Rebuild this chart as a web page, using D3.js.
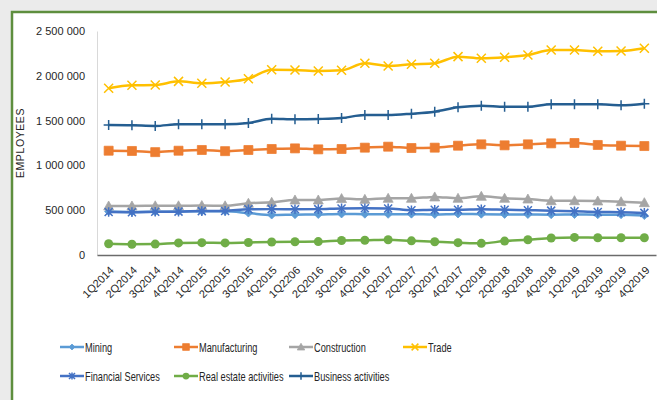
<!doctype html>
<html lang="en">
<head>
<meta charset="utf-8">
<title>Employees by industry</title>
<script src="https://cdn.jsdelivr.net/npm/d3@7/dist/d3.min.js"></script>
<style>
  body { margin: 0; background: #ebebeb; }
  svg { display: block; font-family: "Liberation Sans", Arial, sans-serif; }
</style>
</head>
<body>
<svg id="chart" width="657" height="400"></svg>
<script>
// quarters on the x axis (labels as printed, incl. the "1Q2206" typo)
var quarters = ["1Q2014","2Q2014","3Q2014","4Q2014","1Q2015","2Q2015","3Q2015","4Q2015",
  "1Q2206","2Q2016","3Q2016","4Q2016","1Q2017","2Q2017","3Q2017","4Q2017",
  "1Q2018","2Q2018","3Q2018","4Q2018","1Q2019","2Q2019","3Q2019","4Q2019"];

var yTicks = [0, 500000, 1000000, 1500000, 2000000, 2500000];

// series values (employees)
var mining = [485000,480000,482000,486000,488000,487000,468000,446000,450000,452000,458000,455000,
  454000,456000,452000,458000,455000,453000,452000,450000,452000,450000,450000,440000];
var manufacturing = [1164000,1161000,1148000,1164000,1172000,1159000,1172000,1183000,1190000,1179000,1183000,1198000,
  1209000,1194000,1198000,1220000,1235000,1224000,1235000,1246000,1250000,1228000,1220000,1216000];
var construction = [547000,547000,549000,549000,552000,549000,578000,588000,614000,614000,630000,621000,
  633000,633000,648000,633000,655000,633000,625000,606000,606000,603000,595000,584000];
var trade = [1860000,1894000,1897000,1938000,1916000,1931000,1968000,2068000,2065000,2054000,2061000,2140000,
  2110000,2128000,2140000,2214000,2195000,2206000,2232000,2288000,2288000,2273000,2277000,2307000];
var financial = [480000,478000,482000,484000,490000,492000,510000,512000,510000,512000,520000,522000,
  520000,500000,505000,505000,510000,505000,500000,495000,488000,480000,478000,470000];
var realEstate = [125000,120000,122000,135000,138000,135000,140000,145000,148000,150000,162000,165000,
  170000,158000,148000,138000,130000,155000,170000,190000,196000,193000,192000,193000];
var business = [1451000,1448000,1440000,1459000,1459000,1459000,1473000,1521000,1514000,1518000,1529000,1562000,
  1562000,1577000,1600000,1648000,1667000,1655000,1655000,1682000,1682000,1682000,1671000,1689000];

var seriesNames = ["Mining","Manufacturing","Construction","Trade","Financial Services","Real estate activities","Business activities"];
var seriesValues = [mining, manufacturing, construction, trade, financial, realEstate, business];
var seriesColors = ["#5B9BD5","#ED7D31","#A5A5A5","#FFC000","#4472C4","#70AD47","#255E91"];
var seriesMarkers = ["diamond","square","triangle","x","asterisk","circle","plus"];

var svg = d3.select("#chart");

// white panel with green frame (runs off the right and bottom edges)
svg.append("rect")
  .attr("x", 12).attr("y", 12)
  .attr("width", 700).attr("height", 450)
  .attr("fill", "#ffffff")
  .attr("stroke", "#5E8E3E")
  .attr("stroke-width", 2.5);

var x = d3.scaleBand().domain(quarters).range([97, 656]).padding(0);
var y = d3.scaleLinear().domain([0, 2500000]).range([255, 31]);
function cx(q) { return x(q) + x.bandwidth() / 2; }

// y axis
var fmt = d3.format(",");
var yAxis = svg.append("g").attr("transform", "translate(97,0)")
  .call(d3.axisLeft(y).tickValues(yTicks).tickSize(0).tickPadding(12)
    .tickFormat(function(d) { return fmt(d).replace(/,/g, " "); }));
yAxis.select(".domain").attr("stroke", "#d9d9d9").attr("stroke-width", 1);
yAxis.selectAll("text").attr("font-size", 11).attr("fill", "#262626")
  .attr("font-family", "Liberation Sans, Arial, sans-serif");

// x axis
var xAxis = svg.append("g").attr("transform", "translate(0,255)")
  .call(d3.axisBottom(x).tickSize(0).tickPadding(0));
xAxis.select(".domain").attr("stroke", "#6b6b6b").attr("stroke-width", 1.5);
xAxis.selectAll("text")
  .attr("font-size", 11).attr("fill", "#262626")
  .attr("font-family", "Liberation Sans, Arial, sans-serif")
  .attr("text-anchor", "end")
  .attr("dy", 0).attr("y", 0)
  .attr("transform", "translate(6,16) rotate(-45)");

// y axis title
svg.append("text")
  .attr("transform", "translate(24,143) rotate(-90)")
  .attr("text-anchor", "middle")
  .attr("font-size", 10.5)
  .attr("letter-spacing", 0.6)
  .attr("fill", "#262626")
  .text("EMPLOYEES");

// marker shapes
function markerPath(type, s) {
  if (type == "diamond") return "M0," + -s + "L" + s + ",0L0," + s + "L" + -s + ",0Z";
  if (type == "square") return "M" + -s + "," + -s + "h" + 2*s + "v" + 2*s + "h" + -2*s + "Z";
  if (type == "triangle") return "M0," + -s + "L" + s + "," + s*0.8 + "L" + -s + "," + s*0.8 + "Z";
  if (type == "x") return "M" + -s + "," + -s + "L" + s + "," + s + "M" + s + "," + -s + "L" + -s + "," + s;
  if (type == "asterisk") return "M" + -s + "," + -s + "L" + s + "," + s + "M" + s + "," + -s + "L" + -s + "," + s + "M0," + -s*1.2 + "V" + s*1.2;
  if (type == "plus") return "M" + -s + ",0H" + s + "M0," + -s + "V" + s;
  return null;
}
var markerSize = { diamond: 4, square: 4.5, triangle: 5, x: 4.5, asterisk: 4, plus: 5, circle: 4.5 };
var filled = { diamond: true, square: true, triangle: true, circle: true };

function drawMarker(g, type, color, px, py, k) {
  var s = markerSize[type] * k;
  if (type == "circle") {
    g.append("circle").attr("cx", px).attr("cy", py).attr("r", s).attr("fill", color);
  } else {
    g.append("path")
      .attr("d", markerPath(type, s))
      .attr("transform", "translate(" + px + "," + py + ")")
      .attr("fill", filled[type] ? color : "none")
      .attr("stroke", color)
      .attr("stroke-width", filled[type] ? 0.75 : 1.5);
  }
}

var line = d3.line()
  .x(function(d, i) { return cx(quarters[i]); })
  .y(function(d) { return y(d); })
  .curve(d3.curveMonotoneX);

for (var k = 0; k < seriesNames.length; k++) {
  var g = svg.append("g");
  g.append("path")
    .datum(seriesValues[k])
    .attr("d", line)
    .attr("fill", "none")
    .attr("stroke", seriesColors[k])
    .attr("stroke-width", 2.5)
    .attr("stroke-linejoin", "round");
  for (var i = 0; i < quarters.length; i++) {
    drawMarker(g, seriesMarkers[k], seriesColors[k], cx(quarters[i]), y(seriesValues[k][i]), 1);
  }
}

// legend
var legendX = [60, 174, 289, 403];
var legendY = [347, 376];
for (var k = 0; k < seriesNames.length; k++) {
  var lx = legendX[k % 4], ly = legendY[Math.floor(k / 4)];
  var lg = svg.append("g");
  lg.append("line")
    .attr("x1", lx).attr("x2", lx + 24)
    .attr("y1", ly).attr("y2", ly)
    .attr("stroke", seriesColors[k]).attr("stroke-width", 2.5);
  drawMarker(lg, seriesMarkers[k], seriesColors[k], lx + 12, ly, 0.75);
  // narrow the text a little, the original face is condensed
  lg.append("text")
    .attr("transform", "translate(" + (lx + 25) + "," + (ly + 4.5) + ") scale(0.71,1)")
    .attr("font-size", 13)
    .attr("fill", "#262626")
    .text(seriesNames[k]);
}
</script>
</body>
</html>
